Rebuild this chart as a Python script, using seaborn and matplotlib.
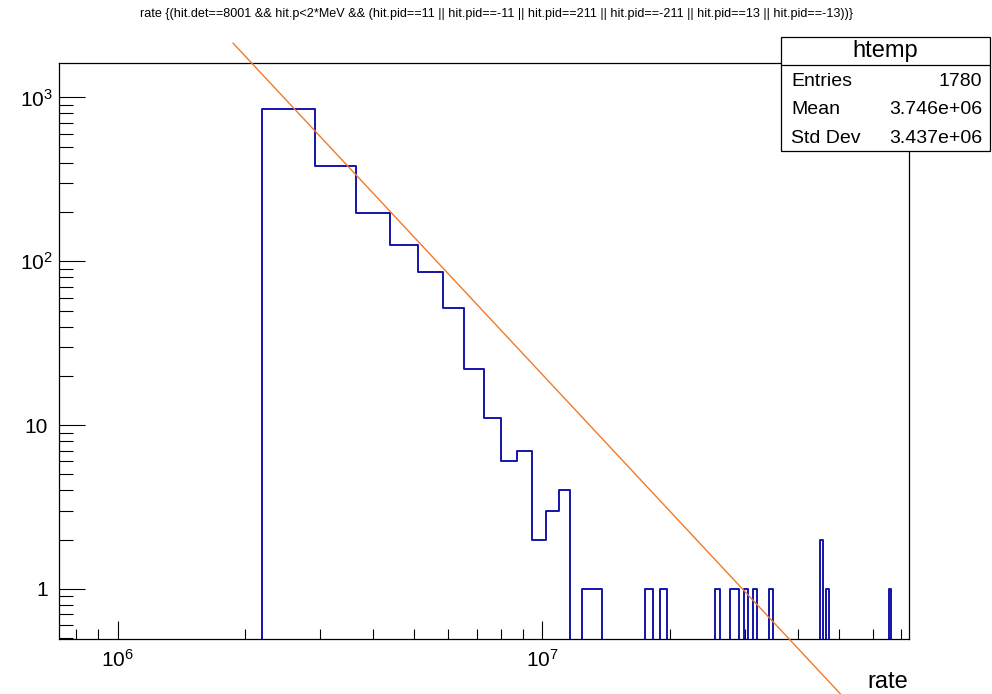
import numpy as np
import pandas as pd
import matplotlib
matplotlib.use("Agg")
import matplotlib.pyplot as plt
import seaborn as sns
from matplotlib.patches import Rectangle
from matplotlib.lines import Line2D
from matplotlib.ticker import FixedLocator, FixedFormatter, LogLocator, NullFormatter

# ---------------- data ----------------
bin_width = 0.728e6          # linear bins of the ROOT histogram
n_bins = 100
bin_index = [3, 4, 5, 6, 7, 8, 9, 10, 11, 12, 13, 14, 15, 17, 18, 24, 26,
             35, 38, 39, 41, 43, 47, 62, 64, 90]
bin_counts = [855, 382, 197, 126, 86, 52, 22, 11, 6, 7, 2, 3, 4, 1, 1, 1, 1,
              1, 1, 1, 1, 1, 1, 2, 1, 1]

fit_x = [1.87e6, 5.1e7]       # power-law line y = 10**a * x**b
fit_log_intercept = 20.755
fit_slope = -2.778

xtick_values = [1e6, 1e7]
xtick_labels = [r"$\mathregular{10^{6}}$", r"$\mathregular{10^{7}}$"]
ytick_values = [1, 10, 100, 1000]
ytick_labels = ["1", "10", r"$\mathregular{10^{2}}$", r"$\mathregular{10^{3}}$"]
ylim = (0.495, 1635)

title_text = ("rate {(hit.det==8001 && hit.p<2*MeV && (hit.pid==11 || hit.pid==-11 || "
              "hit.pid==211 || hit.pid==-211 || hit.pid==13 || hit.pid==-13))}")
xlabel_text = "rate"
stats_name = "htemp"
stats_labels = ["Entries", "Mean", "Std Dev"]
stats_values = ["1780", "3.746e+06", "3.437e+06"]

# ---------------- style ----------------
sns.set_theme(style="white")
plt.rcParams["font.family"] = ["Liberation Sans", "DejaVu Sans"]
plt.rcParams["mathtext.fontset"] = "custom"
plt.rcParams["mathtext.rm"] = "Liberation Sans"
plt.rcParams["mathtext.it"] = "Liberation Sans:italic"
plt.rcParams["mathtext.bf"] = "Liberation Sans:bold"
plt.rcParams["text.color"] = "black"
plt.rcParams["axes.labelcolor"] = "black"
plt.rcParams["xtick.color"] = "black"
plt.rcParams["ytick.color"] = "black"

W, H = 992, 694
fig = plt.figure(figsize=(W / 100, H / 100), dpi=100)
fig.patch.set_facecolor("white")
ax = fig.add_axes([59 / W, 1 - 639 / H, (908.5 - 59) / W, (639 - 62.5) / H])
ax.set_facecolor("white")

edges = [bin_width * k for k in range(1, n_bins + 1)]
centers = [(k + 0.5) * bin_width for k in bin_index]
df = pd.DataFrame({"rate": centers, "count": bin_counts})

sns.histplot(data=df, x="rate", weights="count", bins=edges, element="step",
             fill=False, color="#1414aa", linewidth=1.4, ax=ax)

ax.set_xscale("log")
ax.set_yscale("log")
ax.set_xlim(edges[0], edges[-1])
ax.set_ylim(*ylim)

# fit line (extends outside the frame like in ROOT)
fx = np.array(fit_x)
fy = 10 ** fit_log_intercept * fx ** fit_slope
ax.plot(fx, fy, color="#f07a2a", linewidth=1.0, clip_on=False, zorder=5)

# ticks
ax.xaxis.set_major_locator(FixedLocator(xtick_values))
ax.xaxis.set_major_formatter(FixedFormatter(xtick_labels))
ax.xaxis.set_minor_locator(LogLocator(base=10, subs=np.arange(2, 10), numticks=50))
ax.xaxis.set_minor_formatter(NullFormatter())
ax.yaxis.set_major_locator(FixedLocator(ytick_values))
ax.yaxis.set_major_formatter(FixedFormatter(ytick_labels))
ax.yaxis.set_minor_locator(LogLocator(base=10, subs=np.arange(2, 10), numticks=50))
ax.yaxis.set_minor_formatter(NullFormatter())

ax.tick_params(axis="both", which="both", direction="in", top=False, right=False,
               bottom=True, left=True, color="black", width=0.8, labelcolor="black")
ax.tick_params(axis="x", which="major", length=13, pad=7, labelsize=15)
ax.tick_params(axis="x", which="minor", length=7)
ax.tick_params(axis="y", which="major", length=19, pad=4.5, labelsize=15)
ax.tick_params(axis="y", which="minor", length=10)

for sp in ax.spines.values():
    sp.set_color("black")
    sp.set_linewidth(0.9)

ax.set_ylabel("")
ax.set_xlabel(xlabel_text, fontsize=17, loc="right")
ax.xaxis.set_label_coords(1.0, (639 - 688) / (639 - 62.5))
ax.xaxis.label.set_va("baseline")
ax.xaxis.label.set_ha("right")

# title, fitted to the width used by ROOT
t = fig.text(496.5 / W, 1 - 14 / H, title_text, fontsize=8, ha="center", va="center",
             color="black")
fig.canvas.draw()
r = fig.canvas.get_renderer()
wpx = t.get_window_extent(r).width
t.set_fontsize(8 * 713 / wpx)

# shift labels without exponent slightly left (ROOT alignment)
for lab in ax.yaxis.get_majorticklabels():
    if "^" not in lab.get_text():
        lab.set_x(-5 / ((908.5 - 59)))

# stats box
bx0, bx1, by0, by1 = 781, 990, 37, 151
fig.add_artist(Rectangle((bx0 / W, 1 - by1 / H), (bx1 - bx0) / W, (by1 - by0) / H,
                         transform=fig.transFigure, facecolor="white",
                         edgecolor="black", linewidth=0.9, zorder=10))
fig.add_artist(Line2D([bx0 / W, bx1 / W], [1 - 65 / H, 1 - 65 / H],
                      transform=fig.transFigure, color="black", linewidth=0.9,
                      zorder=11))
fig.text((bx0 + bx1) / 2 / W, 1 - 51.5 / H, stats_name, fontsize=17, ha="center",
         va="center", zorder=12)
for i, (lab, val) in enumerate(zip(stats_labels, stats_values)):
    yy = 1 - (81.7 + 28.2 * i) / H
    fig.text(791 / W, yy, lab, fontsize=14, ha="left", va="center", zorder=12)
    fig.text(982 / W, yy, val, fontsize=14, ha="right", va="center", zorder=12)

fig.savefig("out.png", dpi=100)
